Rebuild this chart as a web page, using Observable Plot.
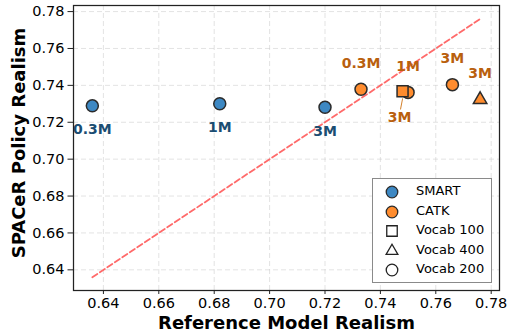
<!DOCTYPE html>
<html>
<head>
<meta charset="utf-8">
<script src="https://cdn.jsdelivr.net/npm/d3@7"></script>
<script src="https://cdn.jsdelivr.net/npm/@observablehq/plot@0.6"></script>
<style>
  html, body { margin: 0; padding: 0; background: white; }
  #wrap { position: relative; width: 510px; height: 332px; font-family: "DejaVu Sans", sans-serif; }
  #legend { position: absolute; left: 372px; top: 178px; width: 120px; height: 105px;
    border: 1px solid #8a8a8a; background: white; box-sizing: border-box; font-size: 13px; }
  #legend .row { position: absolute; left: 0; height: 20px; width: 118px; }
  #legend svg { position: absolute; left: 10px; top: 2px; }
  #legend span { position: absolute; left: 43px; top: 1px; line-height: 18px; color: #000; white-space: nowrap; }
</style>
</head>
<body>
<div id="wrap"><div id="legend"></div></div>
<script>
// ---- data ----
const models        = ["SMART", "SMART", "SMART", "CATK", "CATK", "CATK", "CATK", "CATK"];
const vocabSizes    = [200, 200, 200, 200, 200, 100, 200, 400];
const refRealism    = [0.636, 0.682, 0.720, 0.733, 0.750, 0.748, 0.766, 0.776];
const policyRealism = [0.7289, 0.7300, 0.7281, 0.7379, 0.7362, 0.7368, 0.7404, 0.7323];
const sizeLabels    = ["0.3M", "1M", "3M", "0.3M", "1M", "3M", "3M", "3M"];
const xTicks = [0.64, 0.66, 0.68, 0.70, 0.72, 0.74, 0.76, 0.78];
const yTicks = [0.64, 0.66, 0.68, 0.70, 0.72, 0.74, 0.76, 0.78];
const modelNames = ["SMART", "CATK"];
const vocabNames = [100, 400, 200];
const xLabel = "Reference Model Realism";
const yLabel = "SPACeR Policy Realism";

// ---- styling ----
const fillColors = ["#3d88c3", "#ff8c2e"];
const labelColors = ["#1b4d72", "#b9600e"];
const symbolFor = {100: "square", 400: "triangle", 200: "circle"};
const rFor = {100: 6.2, 400: 5, 200: 6};

const rows = models.map((m, i) => ({
  model: m, vocab: vocabSizes[i], x: refRealism[i], y: policyRealism[i], label: sizeLabels[i]
}));
const below = d => d.model === "SMART" || d.vocab === 100;

const ext = d3.extent(refRealism);
const diag = ext.map(v => ({x: v, y: v}));

const dotMark = v => Plot.dot(rows.filter(d => d.vocab === v), {
  x: "x", y: "y", fill: "model", symbol: () => symbolFor[v], r: rFor[v],
  stroke: "#2b2b2b", strokeWidth: 1.5
});

const chart = Plot.plot({
  width: 510, height: 332,
  marginLeft: 73, marginRight: 11, marginTop: 5, marginBottom: 42,
  style: {fontFamily: "DejaVu Sans", fontSize: "14.5px", color: "#000", background: "white", overflow: "visible"},
  x: {domain: [0.6292, 0.783], label: null},
  y: {domain: [0.6288, 0.7833], label: null},
  color: {domain: modelNames, range: fillColors},
  symbol: {domain: ["square", "triangle", "circle"], range: ["square", "triangle", "circle"]},
  marks: [
    Plot.gridX(xTicks, {stroke: "#c8c8c8", strokeOpacity: 0.5, strokeDasharray: "5,3"}),
    Plot.gridY(yTicks, {stroke: "#c8c8c8", strokeOpacity: 0.5, strokeDasharray: "5,3"}),
    Plot.axisX({ticks: xTicks, tickFormat: d3.format(".2f"), tickSize: 4, tickPadding: 3.5, label: null, stroke: "#222"}),
    Plot.axisY({ticks: yTicks, tickFormat: d3.format(".2f"), tickSize: 5.5, tickPadding: 3.5, label: null, stroke: "#222"}),
    Plot.line(diag, {x: "x", y: "y", stroke: "#ff5a5a", strokeOpacity: 0.9, strokeWidth: 1.8, strokeDasharray: "6,3"}),
    dotMark(200),
    dotMark(100),
    dotMark(400),
    Plot.vector(rows.filter(d => d.vocab === 100), {
      x: "x", y: "y", dy: 7.5, length: 10.5, rotate: 191, anchor: "start",
      stroke: "#d4822e", strokeWidth: 1,
      shape: {draw(ctx, l) { ctx.moveTo(0, 0); ctx.lineTo(0, -l); }}
    }),
    Plot.text(rows.filter(d => d.model === "SMART"), {
      x: "x", y: "y", text: "label", dy: 24, fill: labelColors[0], fontWeight: "bold", fontSize: 14
    }),
    Plot.text(rows.filter(d => d.model === "CATK" && below(d)), {
      x: "x", y: "y", text: "label", dy: 26, dx: -3, fill: labelColors[1], fontWeight: "bold", fontSize: 14
    }),
    Plot.text(rows.filter(d => d.model === "CATK" && !below(d)), {
      x: "x", y: "y", text: "label", dy: -26, fill: labelColors[1], fontWeight: "bold", fontSize: 14
    }),
    Plot.frame({stroke: "#222", strokeWidth: 1.25}),
    Plot.text([xLabel], {frameAnchor: "bottom", dy: 33, text: d => d, fontWeight: "bold", fontSize: 18, lineAnchor: "middle"}),
    Plot.text([yLabel], {frameAnchor: "left", dx: -54, dy: -5, rotate: -90, textAnchor: "middle", text: d => d, fontWeight: "bold", fontSize: 18, lineAnchor: "middle"})
  ]
});
document.getElementById("wrap").prepend(chart);

// ---- legend ----
const legend = document.getElementById("legend");
const items = [
  ...modelNames.map((m, i) => ({label: m, sym: "circle", fill: fillColors[i], stroke: "#2b2b2b"})),
  ...vocabNames.map(v => ({label: "Vocab " + v, sym: symbolFor[v], fill: "none", stroke: "#222"}))
];
items.forEach((it, i) => {
  const row = document.createElement("div");
  row.className = "row";
  row.style.top = (2 + i * 19.6) + "px";
  const size = it.sym === "triangle" ? 60 : (it.sym === "square" ? 110 : 105);
  const path = d3.symbol(it.sym === "square" ? d3.symbolSquare : it.sym === "triangle" ? d3.symbolTriangle : d3.symbolCircle, size)();
  row.innerHTML = `<svg width="18" height="18"><path transform="translate(9,9)" d="${path}" fill="${it.fill}" stroke="${it.stroke}" stroke-width="1.3"/></svg><span>${it.label}</span>`;
  legend.appendChild(row);
});
</script>
</body>
</html>
